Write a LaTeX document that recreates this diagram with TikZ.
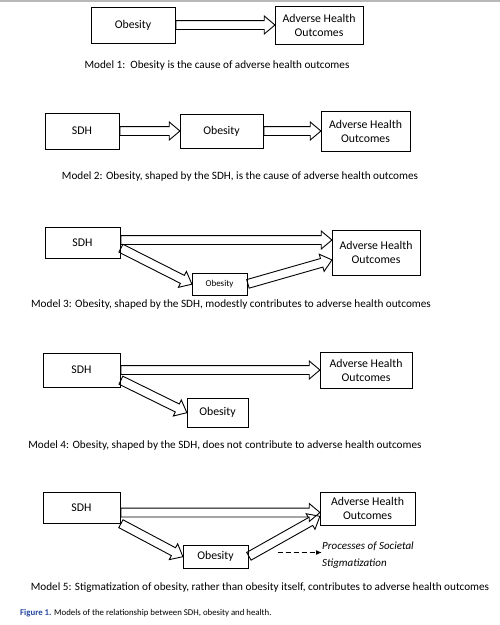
\documentclass[tikz,border=0pt]{standalone}
\usepackage{fontspec}
\setmainfont{Carlito}
\usepackage{tikz}
\usetikzlibrary{arrows.meta}
\usetikzlibrary{shapes.arrows}
\usetikzlibrary{calc}

\definecolor{figblue}{RGB}{35,70,160}

% hollow block arrow from one point to another
\newcommand{\fatarrow}[2]{%
  \path let \p1=($(#2)-(#1)$), \n1={atan2(\y1,\x1)}, \n2={veclen(\x1,\y1)} in
    node[fatarrow, rotate=\n1, minimum height=\n2, anchor=tail] at (#1) {};}

\begin{document}
\begin{tikzpicture}[x=1pt, y=-1pt,
    box/.style = {draw, line width=1pt, align=center, inner sep=1pt,
                  font=\fontsize{11.8}{14}\selectfont},
    caption/.style = {font=\fontsize{11.2}{13}\selectfont, inner sep=0pt},
    fatarrow/.style = {single arrow, draw, line width=0.9pt, inner xsep=0pt,
                  inner ysep=4pt, single arrow head extend=4.5pt,
                  single arrow tip angle=80}]
    \useasboundingbox (0,0) rectangle (500,625);
    \draw[gray!55, line width=1.5pt] (0,1.2) -- (500,1.2);

    % Model 1
    \node[box, minimum width=84, minimum height=36] (ob1) at (133,25) {Obesity};
    \node[box, minimum width=88, minimum height=38] (aho1) at (319,25) {Adverse Health\\Outcomes};
    \fatarrow{ob1.east}{aho1.west}
    \node[caption] (cap1) at (217,66) {Model 1:\ \ Obesity is the cause of adverse health outcomes};

    % Model 2
    \node[box, minimum width=74, minimum height=36] (sdh2) at (82,131) {SDH};
    \node[box, minimum width=83, minimum height=34] (ob2) at (221.5,131) {Obesity};
    \node[box, minimum width=89, minimum height=40] (aho2) at (365.5,131) {Adverse Health\\Outcomes};
    \fatarrow{sdh2.east}{ob2.west}
    \fatarrow{ob2.east}{aho2.west}
    \node[caption] (cap2) at (240,177) {Model 2: Obesity, shaped by the SDH, is the cause of adverse health outcomes};

    % Model 3
    \node[box, minimum width=75, minimum height=31] (sdh3) at (82.5,242.5) {SDH};
    \node[box, minimum width=88, minimum height=45] (aho3) at (376,252.5) {Adverse Health\\Outcomes};
    \node[box, minimum width=55, minimum height=22, font=\fontsize{9}{10}\selectfont] (ob3) at (219.5,284) {Obesity};
    \fatarrow{[yshift=2.5pt]sdh3.east}{[yshift=2.5pt]sdh3.east -| aho3.west}
    \fatarrow{[yshift=-5.5pt]sdh3.east}{ob3.west}
    \fatarrow{ob3.east}{[yshift=-7.5pt]aho3.west}
    \node[caption] (cap3) at (231,305) {Model 3: Obesity, shaped by the SDH, modestly contributes to adverse health outcomes};

    % Model 4
    \node[box, minimum width=77, minimum height=34] (sdh4) at (81.5,370) {SDH};
    \node[box, minimum width=92, minimum height=36] (aho4) at (366,370) {Adverse Health\\Outcomes};
    \node[box, minimum width=61, minimum height=29] (ob4) at (217.5,412.5) {Obesity};
    \fatarrow{sdh4.east}{aho4.west}
    \fatarrow{[yshift=-10pt]sdh4.east}{ob4.west}
    \node[caption] (cap4) at (225,446) {Model 4: Obesity, shaped by the SDH, does not contribute to adverse health outcomes};

    % Model 5
    \node[box, minimum width=77, minimum height=31] (sdh5) at (81.5,507.5) {SDH};
    \node[box, minimum width=95, minimum height=33] (aho5) at (367.5,508.5) {Adverse Health\\Outcomes};
    \node[box, minimum width=65, minimum height=23] (ob5) at (215.5,556.5) {Obesity};
    \node[align=left, inner sep=0pt, anchor=north west, font=\fontsize{11}{17}\selectfont\itshape]
        (stig) at (322,542) {Processes of Societal\\Stigmatization};
    \coordinate (dash5) at ([xshift=29pt,yshift=4pt]ob5.east);
    \fatarrow{[yshift=-5pt]sdh5.east}{[yshift=-5pt]sdh5.east -| aho5.west}
    \fatarrow{sdh5.south east}{ob5.west}
    \fatarrow{ob5.east}{[yshift=-8pt]aho5.west}
    \draw[dashed, dash pattern=on 5pt off 3pt, line width=1.4pt, -{Latex[length=6pt, width=5pt]}]
        (dash5) -- (dash5 -| stig.west);
    \node[caption] (cap5) at (260,588) {Model 5: Stigmatization of obesity, rather than obesity itself, contributes to adverse health outcomes};

    % Figure caption
    \node[anchor=west, inner sep=0pt, font=\fontsize{8.8}{10}\selectfont] (fig) at (20,613)
        {\textcolor{figblue}{\textbf{Figure 1.}} Models of the relationship between SDH, obesity and health.};
\end{tikzpicture}
\end{document}
